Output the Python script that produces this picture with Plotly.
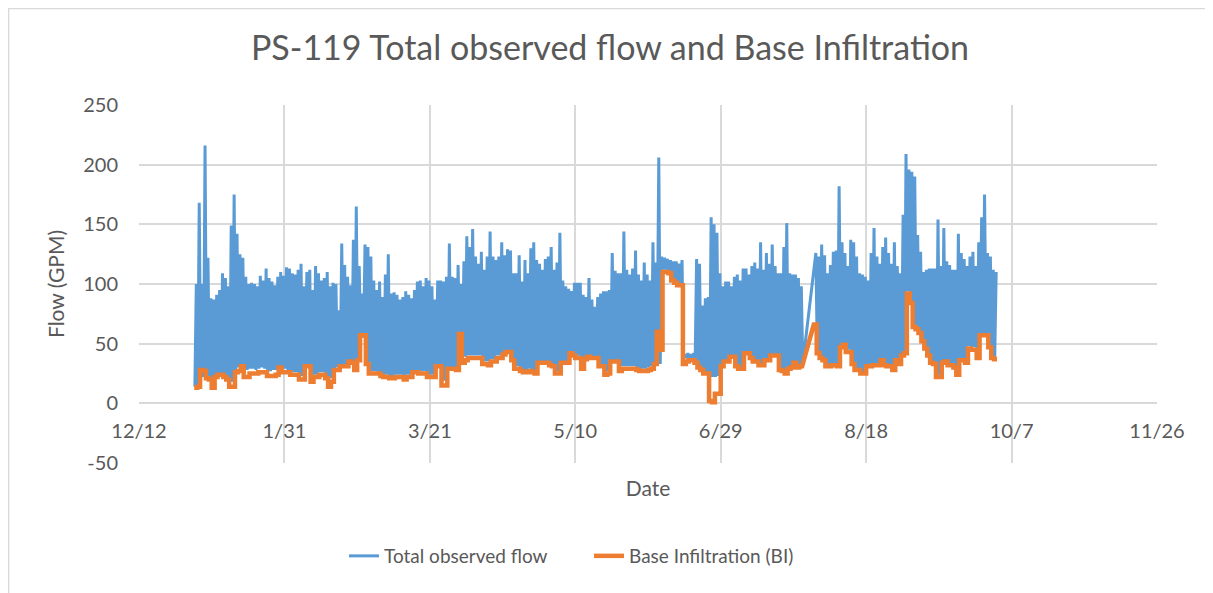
import pandas as pd
import plotly.graph_objects as go

# ---------------- data ----------------
axis_start = "2019-12-12"
first_date = "2019-12-31"          # first day with data

# daily peak of total observed flow (GPM); None = no data (gap)
peak = [
    100, 168, 100, 216, 122, 88, 87, 91, 95, 109, 105, 98, 149, 175, 142, 125, 122, 106,
    100, 101, 100, 98, 107, 103, 113, 105, 102, 99, 106, 110, 107, 114,
    113, 109, 108, 112, 117, 98, 110, 112, 95, 115, 109, 103, 105, 110, 98, 101, 100, 78,
    134, 116, 106, 99, 137, 165, 115, 92, 133, 131, 123, 103, 95, 102, 89, 108, 125,
    92, 93, 91, 87, 89, 94, 91, 88, 95, 102, 103, 98, 105, 103, 98, 87, 103, 103, 102,
    106, 134, 106, 105, 116, 100, 119, 140, 131, 146, 123, 117, 127, 112, 123, 144,
    123, 120, 123, 135, 124, 129, 128, 109, 109, 124, 102, 120, 109, 130, 135, 120, 117,
    112, 121, 123, 131, 112, 118, 143, 103, 98, 96, 94, 101, 101, 101, 91, 89, 105,
    87, 81, 89, 92, 94, 94, 95, 126, 111, 109, 109, 144, 112, 108, 113, 128, 108, 103,
    118, 108, 103, 135, 118, 206, 123, 122, 121, 120, 119, 119, 117, 120,
    41, 42, 41, 42, 121, 117, 82, 88, 89, 156, 150, 143, 109, 98, 102, 102, 98, 106, 108,
    103, 113, 113, 108, 115, 118, 113, 135, 112, 126, 117, 133, 115, 109, 109, 131, 151,
    109, 108, 108, 105, 98,
    None, None, None, None,
    126, 123, 133, 124, 109, 116, 127, 128, 182, 135, 126, 115, 137, 135, 123, 109, 108,
    106, 103, 126, 147, 123, 117, 131, 139, 126,
    117, 135, 115, 109, 158, 209, 196, 194, 190, 141, 127, 110, 112, 113, 113, 113, 154,
    115, 147, 119, 116, 112, 112, 142, 126, 121, 115, 123, 127, 115, 135, 156, 175, 126,
    123, 112, 110,
]

# daily low of total observed flow (GPM)
trough = [
    14, 15, 21, 22, 21, 21, 19, 21, 22, 23, 22, 21, 18, 18, 28, 30, 30, 27,
    28, 29, 29, 28, 29, 30, 29, 27, 27, 28, 28, 31, 29, 29,
    28, 27, 26, 26, 23, 23, 31, 31, 21, 24, 24, 26, 26, 23, 18, 21, 29, 30,
    32, 32, 32, 35, 34, 30, 37, 55, 55, 35, 27, 27, 27, 26, 25, 24, 24,
    23, 23, 24, 24, 24, 22, 24, 24, 27, 28, 27, 27, 27, 24, 24, 24, 31, 31, 19,
    19, 30, 30, 30, 30, 55, 37, 39, 40, 40, 40, 40, 40, 36, 35, 35,
    37, 37, 40, 40, 42, 44, 44, 38, 31, 31, 29, 28, 28, 29, 28, 27, 35,
    35, 35, 35, 34, 33, 27, 27, 35, 35, 35, 43, 42, 40, 40, 31, 38, 40,
    39, 39, 39, 33, 33, 26, 27, 36, 36, 36, 29, 31, 31, 31, 31, 31, 30, 29,
    29, 29, 30, 31, 34, 60, 33, 112, 112, 111, 105, 103, 101, 101,
    38, 38, 38, 38, 35, 31, 29, 26, 26, 22, 22, 22, 23, 32, 36, 36, 40, 40, 32,
    30, 30, 43, 43, 39, 36, 36, 33, 33, 37, 37, 41, 41, 41, 29, 28, 26,
    30, 31, 35, 31, 32,
    33, None, None, None,
    None, 43, 39, 37, 32, 32, 33, 33, 32, 49, 50, 45, 45, 34, 29, 29, 26,
    26, 32, 32, 33, 33, 33, 37, 33, 32,
    32, 30, 37, 34, 41, 43, 94, 86, 66, 63, 60, 53, 48, 41, 35, 34, 24,
    24, 35, 36, 33, 33, 31, 26, 37, 37, 35, 48, 47, 47, 40, 59, 59, 59,
    49, 40, 39,
]

# daily base infiltration (GPM)
base_inf = [
    13, 14, 28, 27, 21, 20, 13, 22, 24, 24, 22, 20, 14, 14, 26, 27, 31, 22,
    22, 25, 25, 25, 26, 26, 26, 23, 23, 23, 24, 30, 26, 26,
    26, 24, 24, 24, 20, 20, 31, 31, 18, 22, 22, 24, 24, 21, 14, 18, 28, 28,
    31, 31, 31, 35, 34, 28, 36, 57, 57, 33, 25, 25, 25, 25, 23, 22, 22,
    21, 21, 22, 22, 22, 20, 22, 22, 26, 26, 25, 25, 25, 22, 22, 22, 31, 31, 15,
    15, 29, 29, 29, 28, 58, 34, 36, 38, 38, 38, 38, 38, 33, 33, 32,
    35, 35, 38, 38, 41, 43, 43, 36, 29, 29, 27, 26, 26, 27, 26, 25, 34,
    34, 34, 34, 32, 31, 25, 25, 34, 34, 34, 42, 40, 38, 38, 29, 37, 39,
    38, 38, 38, 31, 31, 24, 25, 35, 35, 35, 27, 29, 29, 29, 29, 29, 28, 27,
    27, 27, 28, 29, 33, 60, 45, 110, 110, 109, 103, 101, 99, 99,
    33, 35, 36, 36, 34, 30, 28, 25, 25, 2, 1, 8, 8, 31, 35, 35, 39, 39, 31,
    29, 29, 42, 42, 38, 35, 35, 32, 32, 36, 36, 40, 40, 40, 28, 27, 25,
    29, 30, 34, 30, 31,
    None, None, None, None,
    66, 42, 38, 36, 31, 31, 32, 32, 31, 47, 49, 43, 43, 33, 28, 28, 25,
    25, 31, 31, 32, 32, 32, 36, 32, 31,
    31, 28, 36, 33, 40, 42, 92, 84, 64, 62, 59, 52, 46, 40, 34, 33, 22,
    22, 34, 35, 32, 32, 30, 24, 36, 36, 34, 46, 45, 45, 38, 57, 57, 57,
    47, 38, 37,
]

tick_dates = ["2019-12-12", "2020-01-31", "2020-03-21", "2020-05-10",
              "2020-06-29", "2020-08-18", "2020-10-07", "2020-11-26"]
tick_text = ["12/12", "1/31", "3/21", "5/10", "6/29", "8/18", "10/7", "11/26"]
y_ticks = [-50, 0, 50, 100, 150, 200, 250]
y_tick_text = ["-50", "0", "50", "100", "150", "200", "250"]

# ---------------- build the plotted series ----------------
days = pd.date_range(first_date, periods=len(peak), freq="D")
xb, yb = [], []
for d, lo, hi in zip(days, trough, peak):
    if lo is not None:
        xb.append(d + pd.Timedelta(hours=5))
        yb.append(lo)
    if hi is not None:
        xb.append(d + pd.Timedelta(hours=17))
        yb.append(hi)

xo, yo = [], []
for d, v in zip(days, base_inf):
    if v is not None:
        xo += [d, d + pd.Timedelta(days=1)]
        yo += [v, v]

TXT = "#595959"
GRID = "#d9d9d9"
FONT = "Lato, 'Open Sans', sans-serif"

# page body has an 8px offset; plot area sits at screen x 139..1157, y 105..463
L, T, PW, PH = 131, 97, 1018, 358
W, H = 1213, 593

fig = go.Figure()
fig.add_trace(go.Scatter(x=xb, y=yb, mode="lines", name="Total observed flow",
                         line=dict(color="#5B9BD5", width=3)))
fig.add_trace(go.Scatter(x=xo, y=yo, mode="lines", name="Base Infiltration (BI)",
                         line=dict(color="#ED7D31", width=4.5)))

fig.update_layout(
    width=W, height=H,
    margin=dict(l=L, r=W - L - PW, t=T, b=H - T - PH),
    paper_bgcolor="white", plot_bgcolor="white",
    font=dict(family=FONT, color=TXT, size=20),
    title=dict(text="PS-119 Total observed flow and Base Infiltration",
               x=602 / W, xref="container", xanchor="center",
               y=1 - 40 / H, yref="container", yanchor="middle",
               font=dict(size=34, color=TXT, family=FONT)),
    showlegend=True,
    legend=dict(orientation="h", x=(336 - L) / PW, xanchor="left",
                y=(T + PH - 548) / PH, yanchor="middle",
                font=dict(size=19, color=TXT), bgcolor="rgba(0,0,0,0)",
                entrywidth=200, entrywidthmode="pixels"),
    shapes=[dict(type="rect", xref="paper", yref="paper",
                 x0=(0.7 - L) / PW, x1=1.2, y0=-0.6, y1=1 + (T - 0.7) / PH,
                 line=dict(color=GRID, width=1.3), fillcolor="rgba(0,0,0,0)", layer="below")],
)

fig.update_xaxes(
    type="date", range=[axis_start, tick_dates[-1]],
    tickmode="array", tickvals=tick_dates, ticktext=tick_text,
    showgrid=True, gridcolor=GRID, gridwidth=1.6,
    showline=False, zeroline=False, ticks="",
    anchor="free", position=50 / 300,
    ticklabelstandoff=14,
    tickfont=dict(size=20, color=TXT),
    title=dict(text="Date", font=dict(size=21, color=TXT), standoff=39),
)
fig.update_yaxes(
    range=[-50, 250], tickmode="array", tickvals=y_ticks, ticktext=y_tick_text,
    showgrid=True, gridcolor=GRID, gridwidth=1.6,
    zeroline=False, showline=False, ticks="",
    ticklabelstandoff=20,
    tickfont=dict(size=20, color=TXT),
    title=dict(text="Flow (GPM)", font=dict(size=21, color=TXT), standoff=12),
)

fig.write_html("out.html")
